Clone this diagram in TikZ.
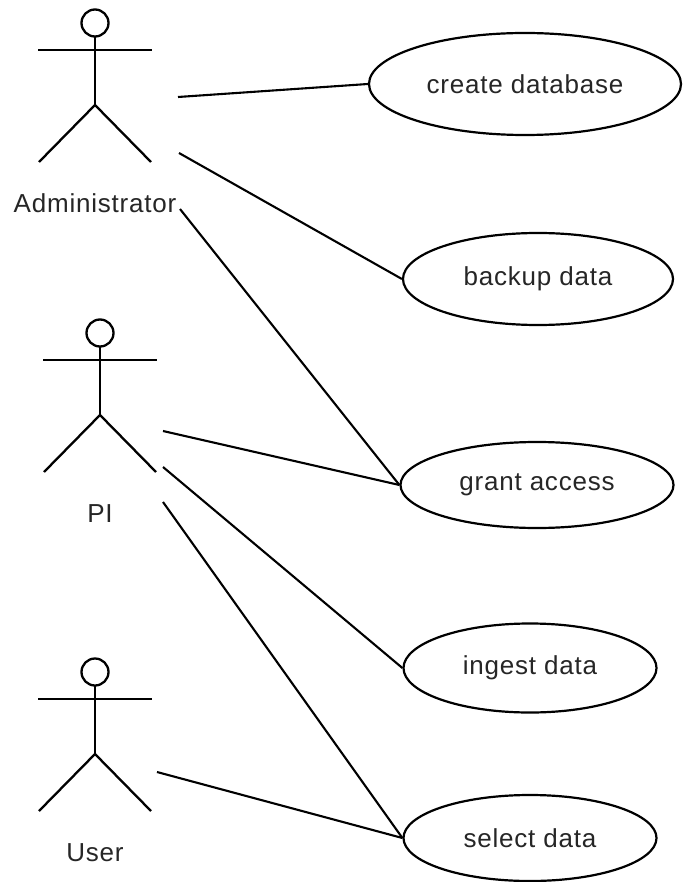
\documentclass[tikz,border=0pt]{standalone}
\usepackage{fontspec}
\setmainfont{Liberation Sans}[LetterSpace=3]
\usetikzlibrary{shapes.geometric}
\begin{document}
\begin{tikzpicture}[x=1pt,y=-1pt,
  line width=2.3pt,
  usecase/.style={draw,ellipse,inner sep=0pt,line width=2.2pt,font=\fontsize{26}{29}\selectfont,text=black!85},
  actorlabel/.style={anchor=base,inner sep=0pt,font=\fontsize{26}{29}\selectfont,text=black!85},
  conn/.style={line width=2.1pt},
  actor/.pic={
    \draw (0,0) circle (13.5);
    \draw (0,13.5) -- (0,82);
    \draw (-57,27) -- (57,27);
    \draw (-56,139) -- (0,82) -- (56,139);
  }]
\useasboundingbox (0,0) rectangle (682,882);
\fill[white] (0,0) rectangle (682,882);

% actors
\pic at (95,23) {actor};
\pic at (100,333) {actor};
\pic at (95,672) {actor};
\node[actorlabel] (admin) at (95,213) {Administrator};
\node[actorlabel] (pi) at (100,522) {PI};
\node[actorlabel] (user) at (95,861) {User};

% connection points near actors
\coordinate (a1) at (178,97);
\coordinate (a2) at (179,153);
\coordinate (a3) at (180,209);
\coordinate (p1) at (163,431);
\coordinate (p2) at (163,467);
\coordinate (p3) at (163,502);
\coordinate (u1) at (157,772);

% use cases
\node[usecase,minimum width=312,minimum height=102] (cd) at (525,84) {create database};
\node[usecase,minimum width=270,minimum height=92] (bd) at (538,279) {backup data};
\node[usecase,minimum width=273,minimum height=86] (ga) at (537,485) {grant access};
\node[usecase,minimum width=253,minimum height=89] (id) at (530,668) {ingest data};
\node[usecase,minimum width=253,minimum height=86] (sd) at (530,838) {select data};

% associations
\draw[conn] (a1) -- (cd.west);
\draw[conn] (a2) -- (bd.west);
\draw[conn] (a3) -- (ga.west);
\draw[conn] (p1) -- (ga.west);
\draw[conn] (p2) -- (id.west);
\draw[conn] (p3) -- (sd.west);
\draw[conn] (u1) -- (sd.west);
\end{tikzpicture}
\end{document}
